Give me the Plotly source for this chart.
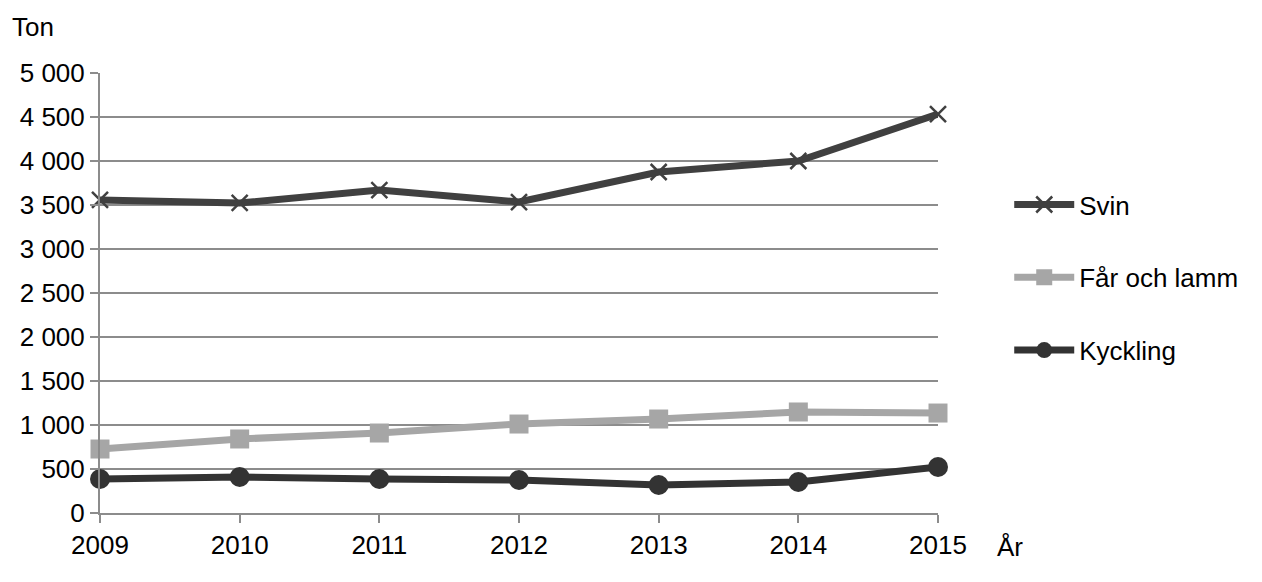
import plotly.graph_objects as go

years = [2009, 2010, 2011, 2012, 2013, 2014, 2015]
svin = [3557, 3523, 3670, 3534, 3875, 4000, 4534]
far_och_lamm = [727, 841, 909, 1011, 1068, 1148, 1136]
kyckling = [386, 409, 386, 375, 318, 352, 523]
y_ticks = [0, 500, 1000, 1500, 2000, 2500, 3000, 3500, 4000, 4500, 5000]
y_ticktext = ["0", "500", "1 000", "1 500", "2 000", "2 500", "3 000", "3 500", "4 000", "4 500", "5 000"]

font = "Liberation Sans, Arial, sans-serif"
fs = 26

fig = go.Figure()
fig.add_trace(go.Scatter(
    x=years, y=svin, name="Svin", mode="lines+markers",
    line=dict(color="#404040", width=7),
    marker=dict(symbol="x-thin", size=16, line=dict(color="#404040", width=2.5)),
    cliponaxis=False, legendgroup="a"))
fig.add_trace(go.Scatter(
    x=years, y=far_och_lamm, name="Får och lamm", mode="lines+markers",
    line=dict(color="#a6a6a6", width=7),
    marker=dict(symbol="square", size=19, color="#a6a6a6"),
    cliponaxis=False, legendgroup="b"))
fig.add_trace(go.Scatter(
    x=years, y=kyckling, name="Kyckling", mode="lines+markers",
    line=dict(color="#333333", width=7),
    marker=dict(symbol="circle", size=20, color="#333333"),
    cliponaxis=False, legendgroup="c"))

fig.update_layout(
    width=1254, height=574,
    margin=dict(l=90, r=324, t=65, b=69),
    paper_bgcolor="white", plot_bgcolor="white",
    font=dict(family=font, size=fs, color="black"),
    showlegend=True,
    legend=dict(x=1.085, y=0.535, xanchor="left", yanchor="middle",
                traceorder="grouped", tracegroupgap=36,
                font=dict(family=font, size=fs, color="black"),
                itemwidth=60),
    xaxis=dict(range=[2009, 2015], tickvals=years, ticktext=[str(y) for y in years],
               showgrid=False, zeroline=False,
               showline=True, linecolor="#8c8c8c", linewidth=2,
               ticks="outside", ticklen=8, tickcolor="#8c8c8c", tickwidth=2,
               tickfont=dict(family=font, size=fs, color="black")),
    yaxis=dict(range=[0, 5000], tickvals=y_ticks, ticktext=y_ticktext,
               showgrid=True, gridcolor="#8c8c8c", gridwidth=2,
               zeroline=False,
               showline=True, linecolor="#8c8c8c", linewidth=2,
               ticks="outside", ticklen=8, tickcolor="#8c8c8c", tickwidth=2,
               tickfont=dict(family=font, size=fs, color="black")),
    annotations=[
        dict(text="Ton", xref="paper", yref="paper", x=-90/840, y=1 + 46/440,
             xanchor="left", yanchor="middle", showarrow=False,
             font=dict(family=font, size=fs, color="black")),
        dict(text="År", xref="paper", yref="paper", x=(995-98)/840, y=-34/440,
             xanchor="left", yanchor="middle", showarrow=False,
             font=dict(family=font, size=fs, color="black")),
    ],
)

fig.write_html("out.html")
